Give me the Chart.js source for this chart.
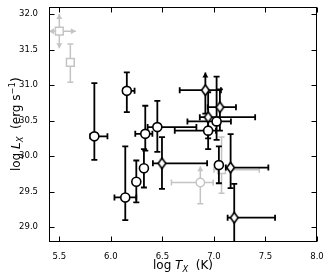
<!DOCTYPE html>
<html>
<head>
<meta charset="utf-8">
<script src="https://cdn.jsdelivr.net/npm/chart.js@4.4.1/dist/chart.umd.min.js"></script>
<style>
  html, body { margin: 0; padding: 0; background: #fff; }
</style>
</head>
<body>
<canvas id="chart" width="330" height="275"></canvas>
<script>
// black sources: log T_X, log L_X and the ends of their error bars
var tX  = [5.84, 6.155, 6.334, 6.321, 6.451, 6.247, 6.14, 6.496, 6.944, 6.917, 7.058, 7.026, 6.944, 7.048, 7.162, 7.197];
var lX  = [30.28, 30.92, 30.315, 29.83, 30.41, 29.64, 29.42, 29.90, 30.36, 30.93, 30.69, 30.49, 30.55, 29.875, 29.84, 29.135];
var tLo = [5.80, 6.12, 6.237, 6.321, 6.357, 6.247, 6.035, 6.408, 6.62, 6.668, 6.94, 6.743, 6.863, 7.02, 7.116, 7.133];
var tHi = [5.967, 6.23, 6.403, 6.321, 6.83, 6.247, 6.247, 6.934, 7.02, 7.068, 7.214, 7.165, 7.40, 7.08, 7.528, 7.593];
var lLo = [29.95, 30.62, 30.08, 29.56, 30.06, 29.35, 29.10, 29.54, 30.10, 30.60, 30.36, 30.23, 30.25, 29.62, 29.55, 28.70];
var lHi = [31.03, 31.18, 30.71, 30.10, 30.78, 29.94, 30.14, 30.27, 30.55, 31.18, 30.94, 31.12, 30.90, 30.14, 30.31, 29.61];
var marks = ['o', 'o', 'o', 'o', 'o', 'o', 'o', 'd', 'o', 'd', 'd', 'o', 'd', 'o', 'd', 'd'];
var lims  = ['', '', '', '', '', '', '', '', '', 'u', '', '', '', '', '', ''];

// grey sources
var gX   = [5.50, 5.607, 6.868, 7.074];
var gY   = [31.76, 31.32, 29.63, 29.81];
var gXLo = [5.40, 5.607, 6.588, 7.00];
var gXHi = [5.66, 5.607, 6.993, 7.44];
var gYLo = [31.52, 31.04, 29.33, 29.48];
var gYHi = [32.00, 31.58, 29.86, 30.27];
var gMarks = ['s', 's', 'o', 's'];
var gLims  = ['udlr', '', 'u', ''];

var xTicks = [5.5, 6.0, 6.5, 7.0, 7.5, 8.0];
var yTicks = [29.0, 29.5, 30.0, 30.5, 31.0, 31.5, 32.0];

var GREY = '#c4c4c4';

function makeDiamond(stroke) {
  var c = document.createElement('canvas');
  c.width = 11; c.height = 13;
  var g = c.getContext('2d');
  g.beginPath();
  g.moveTo(5.5, 1.2); g.lineTo(9.3, 6.5); g.lineTo(5.5, 11.8); g.lineTo(1.7, 6.5);
  g.closePath();
  g.fillStyle = '#fff';
  g.fill();
  g.lineWidth = 1.6;
  g.strokeStyle = stroke;
  g.stroke();
  return c;
}
var diamond = makeDiamond('#000');

function toPoints(xs, ys) {
  return xs.map(function(x, i) { return {x: x, y: ys[i]}; });
}

function seg(ctx, x0, y0, x1, y1) {
  ctx.beginPath();
  ctx.moveTo(x0, y0);
  ctx.lineTo(x1, y1);
  ctx.stroke();
}

// cap or arrow head at one end of a bar; dir is l, r, u or d
function endMark(ctx, x, y, dir, lim, cap) {
  if (lim.indexOf(dir) >= 0) {
    var a = 5, w = 3;
    ctx.beginPath();
    if (dir === 'u') { ctx.moveTo(x, y); ctx.lineTo(x - w, y + a); ctx.lineTo(x + w, y + a); }
    if (dir === 'd') { ctx.moveTo(x, y); ctx.lineTo(x - w, y - a); ctx.lineTo(x + w, y - a); }
    if (dir === 'l') { ctx.moveTo(x, y); ctx.lineTo(x + a, y - w); ctx.lineTo(x + a, y + w); }
    if (dir === 'r') { ctx.moveTo(x, y); ctx.lineTo(x - a, y - w); ctx.lineTo(x - a, y + w); }
    ctx.closePath();
    ctx.fill();
    return;
  }
  if (dir === 'u' || dir === 'd') seg(ctx, x - cap, y, x + cap, y);
  else seg(ctx, x, y - cap, x, y + cap);
}

var errorBars = {
  id: 'errorBars',
  beforeDatasetDraw: function(chart, args) {
    var ds = chart.data.datasets[args.index];
    if (!ds.errors) return;
    var ctx = chart.ctx;
    var xs = chart.scales.x, ys = chart.scales.y;
    var area = chart.chartArea;
    var e = ds.errors;

    ctx.save();
    ctx.beginPath();
    ctx.rect(area.left, area.top, area.right - area.left, area.bottom - area.top);
    ctx.clip();
    ctx.strokeStyle = ds.barColor;
    ctx.fillStyle = ds.barColor;
    ctx.lineWidth = ds.barWidth;
    ctx.lineCap = 'butt';

    ds.data.forEach(function(p, i) {
      var px = xs.getPixelForValue(p.x), py = ys.getPixelForValue(p.y);
      var x0 = xs.getPixelForValue(e.xLo[i]), x1 = xs.getPixelForValue(e.xHi[i]);
      var y0 = ys.getPixelForValue(e.yLo[i]), y1 = ys.getPixelForValue(e.yHi[i]);
      var lim = e.lims[i] || '';
      if (x1 - x0 > 1) {
        seg(ctx, x0, py, x1, py);
        endMark(ctx, x0, py, 'l', lim, 3);
        endMark(ctx, x1, py, 'r', lim, 3);
      }
      if (y0 - y1 > 1) {
        seg(ctx, px, y0, px, y1);
        endMark(ctx, px, y0, 'd', lim, 3);
        endMark(ctx, px, y1, 'u', lim, 3);
      }
    });
    ctx.restore();
  }
};

function fontOf(r) {
  var size = 12 * (r.sz || 1);
  return (r.it ? 'italic ' : '') + size + 'px "DejaVu Sans"';
}

function drawRuns(ctx, runs, cx, baseY) {
  var total = 0;
  runs.forEach(function(r) {
    ctx.font = fontOf(r);
    r.w = ctx.measureText(r.t).width;
    total += r.w;
  });
  var x = cx - total / 2;
  runs.forEach(function(r) {
    ctx.font = fontOf(r);
    ctx.fillText(r.t, x, baseY + (r.dy || 0));
    x += r.w;
  });
}

var frame = {
  id: 'frame',
  afterDraw: function(chart) {
    var ctx = chart.ctx;
    var a = chart.chartArea;
    var xs = chart.scales.x, ys = chart.scales.y;
    var L = Math.round(a.left) + 0.5, R = Math.round(a.right) - 0.5;
    var T = Math.round(a.top) + 0.5, B = Math.round(a.bottom) - 0.5;
    var len = 5;

    ctx.save();
    ctx.strokeStyle = '#000';
    ctx.lineWidth = 1;
    ctx.strokeRect(L, T, R - L, B - T);

    xTicks.forEach(function(v) {
      var px = Math.round(xs.getPixelForValue(v)) + 0.5;
      seg(ctx, px, B, px, B - len);
      seg(ctx, px, T, px, T + len);
    });
    yTicks.forEach(function(v) {
      var py = Math.round(ys.getPixelForValue(v)) + 0.5;
      seg(ctx, L, py, L + len, py);
      seg(ctx, R, py, R - len, py);
    });

    ctx.fillStyle = '#000';
    ctx.textBaseline = 'alphabetic';
    drawRuns(ctx, [
      {t: 'log '}, {t: 'T', it: true}, {t: 'X', it: true, sz: 0.7, dy: 2.5}, {t: '  (K)'}
    ], (a.left + a.right) / 2, 269);

    ctx.translate(20, (a.top + a.bottom) / 2);
    ctx.rotate(-Math.PI / 2);
    drawRuns(ctx, [
      {t: 'log '}, {t: 'L', it: true}, {t: 'X', it: true, sz: 0.7, dy: 2.5},
      {t: '  (erg s'}, {t: '\u22121', sz: 0.7, dy: -5}, {t: ')'}
    ], 0, 0);
    ctx.restore();
  }
};

var tickFont = {family: 'DejaVu Sans', size: 8.5};
function fmt(v) { return Number(v).toFixed(1); }

new Chart(document.getElementById('chart'), {
  type: 'scatter',
  data: {
    datasets: [{
      label: 'black',
      data: toPoints(tX, lX),
      errors: {xLo: tLo, xHi: tHi, yLo: lLo, yHi: lHi, lims: lims},
      barColor: '#000',
      barWidth: 1.8,
      pointStyle: marks.map(function(m) { return m === 'd' ? diamond : 'circle'; }),
      pointRadius: 4.5,
      pointBackgroundColor: '#fff',
      pointBorderColor: '#000',
      pointBorderWidth: 1.6
    }, {
      label: 'grey',
      data: toPoints(gX, gY),
      errors: {xLo: gXLo, xHi: gXHi, yLo: gYLo, yHi: gYHi, lims: gLims},
      barColor: GREY,
      barWidth: 1.5,
      pointStyle: gMarks.map(function(m) { return m === 's' ? 'rect' : 'circle'; }),
      pointRadius: gMarks.map(function(m) { return m === 's' ? 5.5 : 4.2; }),
      pointBackgroundColor: '#fff',
      pointBorderColor: GREY,
      pointBorderWidth: 1.5
    }]
  },
  options: {
    responsive: false,
    animation: false,
    events: [],
    layout: {padding: {top: 5, right: 13, left: 0, bottom: 0}},
    plugins: {legend: {display: false}, tooltip: {enabled: false}},
    scales: {
      x: {
        type: 'linear', min: 5.4, max: 8.0,
        grid: {display: false},
        border: {display: false},
        ticks: {font: tickFont, color: '#000', padding: 2, maxRotation: 0, callback: fmt},
        afterBuildTicks: function(s) { s.ticks = xTicks.map(function(v) { return {value: v}; }); },
        afterFit: function(s) { s.height = 33.5; s.paddingLeft = 0; s.paddingRight = 0; }
      },
      y: {
        type: 'linear', min: 28.8, max: 32.1,
        grid: {display: false},
        border: {display: false},
        ticks: {font: tickFont, color: '#000', padding: 3, callback: fmt},
        afterBuildTicks: function(s) { s.ticks = yTicks.map(function(v) { return {value: v}; }); },
        afterFit: function(s) { s.width = 49; s.paddingTop = 0; s.paddingBottom = 0; }
      }
    }
  },
  plugins: [errorBars, frame]
});
</script>
</body>
</html>
